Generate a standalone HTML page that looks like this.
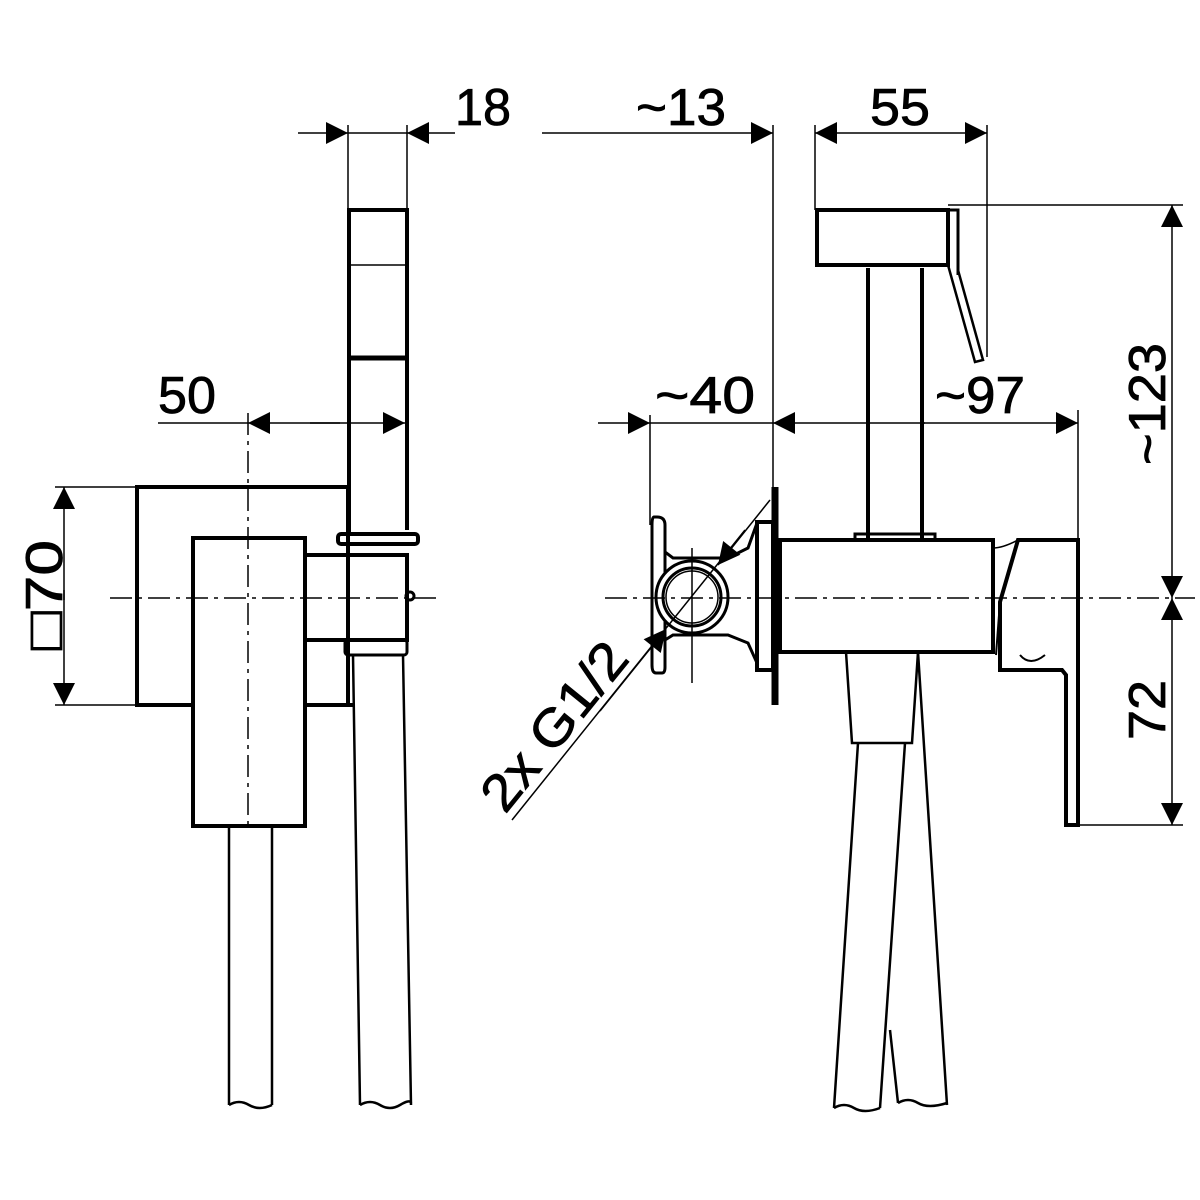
<!DOCTYPE html>
<html><head><meta charset="utf-8"><style>html,body{margin:0;padding:0;background:#fff}svg{display:block}</style></head>
<body>
<svg width="1200" height="1200" viewBox="0 0 1200 1200" xmlns="http://www.w3.org/2000/svg">
<defs>
<marker id="a" viewBox="0 0 10 10" refX="10" refY="5" markerWidth="48" markerHeight="22" markerUnits="userSpaceOnUse" orient="auto"><path d="M0,0 L10,5 L0,10 z" fill="#000"/></marker>
</defs>
<g fill="none" stroke="#000" font-family="Liberation Sans, sans-serif">
<!-- LEFT VIEW -->
<g stroke-width="4">
<rect x="137" y="487" width="211" height="218"/>
<rect x="193" y="538" width="112" height="288" fill="#fff"/>
<path d="M349,535 V210 H407 V530"/>
<line x1="349" y1="358" x2="407" y2="358" stroke-width="5"/>
<line x1="349" y1="265" x2="407" y2="265" stroke-width="1.5"/>
<rect x="338" y="534" width="80" height="10" rx="3"/>
<path d="M305,555 H407 V640 H305"/>
<rect x="345" y="640" width="62" height="15" rx="3" stroke-width="3"/>
<line x1="305" y1="705" x2="353" y2="705"/>
<circle cx="410" cy="596" r="4" stroke-width="3"/>
</g>
<g stroke-width="2.5">
<path d="M353,655 L360,1105 M403,655 L411,1105"/>
<path d="M360,1105 q10,-6 20,0 t20,0 t11,-2"/>
<path d="M229,826 V1105 M272,826 V1105"/>
<path d="M229,1105 q10,-6 20,0 t23,0"/>
</g>
<g stroke-width="1.5" stroke-dasharray="22,6,4,6">
<line x1="110" y1="598" x2="440" y2="598"/>
<line x1="248" y1="413" x2="248" y2="830"/>
</g>
<g stroke-width="1.5">
<line x1="348" y1="125" x2="348" y2="210"/><line x1="407" y1="125" x2="407" y2="210"/>
<line x1="298" y1="133" x2="348" y2="133" marker-end="url(#a)"/>
<line x1="348" y1="133" x2="407" y2="133"/>
<line x1="455" y1="133" x2="407" y2="133" marker-end="url(#a)"/>
<line x1="158" y1="423" x2="248" y2="423"/>
<line x1="340" y1="423" x2="248" y2="423" marker-end="url(#a)"/>
<line x1="310" y1="423" x2="405" y2="423" marker-end="url(#a)"/>
<line x1="55" y1="487" x2="137" y2="487"/><line x1="55" y1="705" x2="137" y2="705"/>
<line x1="64" y1="600" x2="64" y2="487" marker-end="url(#a)"/>
<line x1="64" y1="590" x2="64" y2="705" marker-end="url(#a)"/>
</g>
<!-- RIGHT VIEW -->
<g stroke-width="4">
<line x1="775" y1="487" x2="775" y2="705" stroke-width="7"/>
<rect x="757" y="522" width="16" height="148"/>
<rect x="780" y="540" width="213" height="112"/>
<path d="M868,538 V268 M922,538 V268"/>
<rect x="855" y="534" width="80" height="6" stroke-width="3"/>
<rect x="817" y="210" width="131" height="55"/>
<path d="M948,210 H958 V275" stroke-width="3"/>
<path d="M948,265 L975,362 L983,360 L958,270" stroke-width="2.5"/>
<path d="M1018,540 H1078 V825 H1066 V675 L1062,670 H1000 V602 Z"/>
<path d="M1000,602 L996,655" stroke-width="2"/>
<path d="M993,548 q10,0 25,-8" stroke-width="1.5"/>
<path d="M1020,655 q10,12 25,0" stroke-width="2"/>
<path d="M665,525 q0,-8 -8,-8 h-3 q-2,0 -2,8 V665 q0,8 4,8 h6 q3,0 3,-6 V640 h-1 M665,525 V552 l8,6 h55 l20,-10 l9,-25" stroke-width="3"/>
<path d="M665,640 l8,-5 h55 l20,8 l9,20" stroke-width="3"/>
<line x1="665" y1="552" x2="665" y2="645" stroke-width="3"/>
<circle cx="692" cy="597" r="36" stroke-width="3" fill="#fff"/>
<circle cx="692" cy="597" r="29" stroke-width="3"/>
<circle cx="692" cy="597" r="26" stroke-width="1.5"/>
</g>
<g stroke-width="2.5">
<path d="M846,652 L852,743 H912 L918,652"/>
<path d="M858,743 L834,1108 M905,743 L880,1108"/>
<path d="M834,1108 q10,-6 20,0 t26,0"/>
<path d="M918,652 L947,1105 M890,1030 L898,1103"/>
<path d="M898,1103 q10,-6 20,0 t29,0"/>
</g>
<g stroke-width="1.5">
<line x1="692" y1="548" x2="692" y2="683"/>
<line x1="605" y1="598" x2="1195" y2="598" stroke-dasharray="22,6,4,6"/>
<line x1="773" y1="125" x2="773" y2="487"/><line x1="815" y1="125" x2="815" y2="210"/>
<line x1="987" y1="125" x2="987" y2="357"/>
<line x1="542" y1="133" x2="773" y2="133" marker-end="url(#a)"/>
<line x1="900" y1="133" x2="815" y2="133" marker-end="url(#a)"/>
<line x1="900" y1="133" x2="987" y2="133" marker-end="url(#a)"/>
<line x1="650" y1="415" x2="650" y2="525"/>
<line x1="1078" y1="410" x2="1078" y2="540"/>
<line x1="598" y1="423" x2="650" y2="423" marker-end="url(#a)"/>
<line x1="650" y1="423" x2="773" y2="423"/>
<line x1="925" y1="423" x2="773" y2="423" marker-end="url(#a)"/>
<line x1="920" y1="423" x2="1078" y2="423" marker-end="url(#a)"/>
<line x1="948" y1="205" x2="1183" y2="205"/>
<line x1="1080" y1="825" x2="1183" y2="825"/>
<line x1="1172" y1="400" x2="1172" y2="205" marker-end="url(#a)"/>
<line x1="1172" y1="400" x2="1172" y2="598" marker-end="url(#a)"/>
<line x1="1172" y1="700" x2="1172" y2="598" marker-end="url(#a)"/>
<line x1="1172" y1="700" x2="1172" y2="825" marker-end="url(#a)"/>
<line x1="512" y1="820" x2="745" y2="530"/>
<line x1="600" y1="711" x2="666" y2="629" marker-end="url(#a)"/>
<line x1="770" y1="500" x2="718" y2="565" marker-end="url(#a)"/>
</g>
</g>
<g font-family="Liberation Sans, sans-serif" font-size="52" fill="#000" stroke="#000" stroke-width="0.8" lengthAdjust="spacingAndGlyphs">
<text x="455" y="125" textLength="56" lengthAdjust="spacingAndGlyphs">18</text>
<text x="636" y="125" textLength="90" lengthAdjust="spacingAndGlyphs">~13</text>
<text x="870" y="125" textLength="60" lengthAdjust="spacingAndGlyphs">55</text>
<text x="158" y="413" textLength="58" lengthAdjust="spacingAndGlyphs">50</text>
<text x="655" y="413" textLength="100" lengthAdjust="spacingAndGlyphs">~40</text>
<text x="935" y="413" textLength="90" lengthAdjust="spacingAndGlyphs">~97</text>
<text transform="translate(62,650) rotate(-90)" textLength="110" lengthAdjust="spacingAndGlyphs">□70</text>
<text transform="translate(1165,465) rotate(-90)" textLength="122" lengthAdjust="spacingAndGlyphs">~123</text>
<text transform="translate(1165,740) rotate(-90)" textLength="60" lengthAdjust="spacingAndGlyphs">72</text>
<text transform="translate(505,815) rotate(-51)" textLength="200" lengthAdjust="spacingAndGlyphs">2x G1/2</text>
</g>
</svg>
</body></html>
